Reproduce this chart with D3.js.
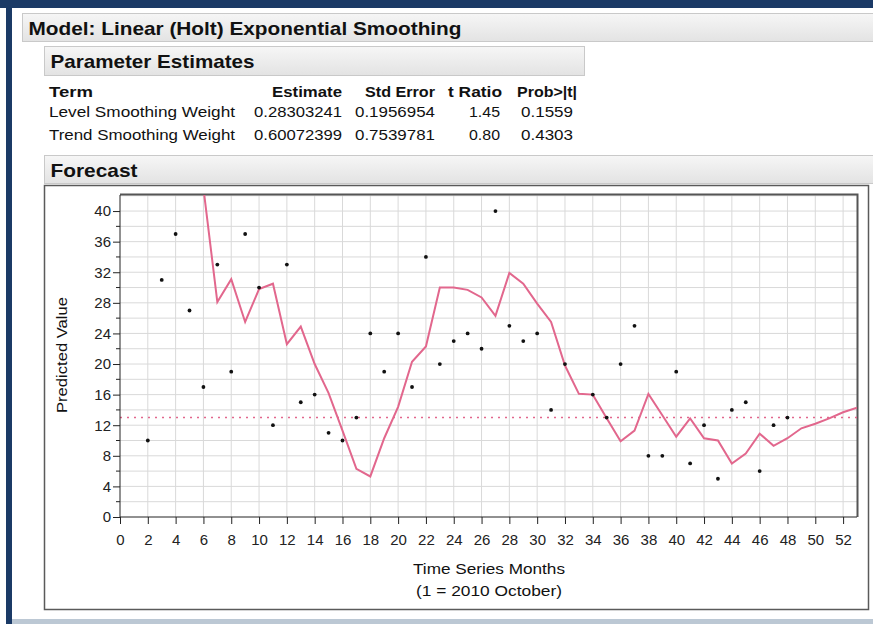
<!DOCTYPE html>
<html>
<head>
<meta charset="utf-8">
<script src="https://cdn.jsdelivr.net/npm/d3@7"></script>
<style>
    body { margin: 0; background: #fff; }
    text { font-family: "Liberation Sans", Arial, sans-serif; fill: #111; }
    .bar-title { font-weight: bold; }
    .th { font-weight: bold; font-size: 15px; }
    .td { font-size: 15px; }
    .axis text { font-size: 15px; fill: #222; }
    .axis path, .axis line { stroke: #222; }
    .grid line { stroke: #d9d9d9; stroke-width: 1; }
</style>
</head>
<body>
<div id="chart"></div>
<script>

// actual monthly values (month 1..48), null where no point is shown
var months = d3.range(1, 49);
var actual = [null, 10, 31, 37, 27, 17, 33, 19, 37, 30, 12, 33, 15, 16, 11, 10,
    13, 24, 19, 24, 17, 34, 20, 23, 24, 22, 40, 25, 23, 24, 14, 20,
    null, 16, 13, 20, 25, 8, 8, 19, 7, 12, 5, 14, 15, 6, 12, 13];

// predicted values (month 6..53)
var predMonths = d3.range(6, 54);
var predicted = [43, 28.1, 31.1, 25.5, 29.8, 30.5, 22.6, 24.9, 20.0, 16.2, 11.3, 6.3,
    5.3, 10.3, 14.4, 20.3, 22.3, 30.0, 30.0, 29.7, 28.7, 26.3, 31.9, 30.5,
    27.9, 25.5, 19.8, 16.1, 16.0, 12.9, 9.9, 11.3, 16.1, 13.3, 10.5, 12.9,
    10.3, 10.0, 7.0, 8.3, 10.9, 9.3, 10.3, 11.6, 12.2, 12.9, 13.7, 14.3];

var meanLine = 13;

var xTicks = d3.range(0, 53, 2);
var yTicks = d3.range(0, 41, 4);

var tableHead = ["Term", "Estimate", "Std Error", "t Ratio", "Prob>|t|"];
var tableRows = [
    ["Level Smoothing Weight", "0.28303241", "0.1956954", "1.45", "0.1559"],
    ["Trend Smoothing Weight", "0.60072399", "0.7539781", "0.80", "0.4303"]
];

var W = 873, H = 624;

var svg = d3.select("#chart").append("svg")
    .attr("width", W)
    .attr("height", H);

// gradient for the section header bars
var defs = svg.append("defs");
var grad = defs.append("linearGradient")
    .attr("id", "barGrad")
    .attr("x1", 0).attr("y1", 0).attr("x2", 0).attr("y2", 1);
grad.append("stop").attr("offset", "0%").attr("stop-color", "#f6f6f6");
grad.append("stop").attr("offset", "100%").attr("stop-color", "#e3e3e3");

defs.append("clipPath").attr("id", "plotClip")
    .append("rect")
    .attr("x", 120).attr("y", 195)
    .attr("width", 737).attr("height", 322);

// page frame (dark blue edges, light bottom line)
svg.append("rect").attr("x", 0).attr("y", 0).attr("width", W).attr("height", 8).attr("fill", "#1b3a66");
svg.append("rect").attr("x", 6).attr("y", 0).attr("width", 6).attr("height", H).attr("fill", "#1b3a66");
svg.append("rect").attr("x", 12).attr("y", 619).attr("width", W - 12).attr("height", 5).attr("fill", "#bcc8d4");

// section header bars
function headerBar(x, y, w, h, label, textW) {
    svg.append("rect")
        .attr("x", x).attr("y", y)
        .attr("width", w).attr("height", h)
        .attr("fill", "url(#barGrad)")
        .attr("stroke", "#c9c9c9");
    svg.append("text")
        .attr("class", "bar-title")
        .attr("x", x + 6)
        .attr("y", y + h / 2 + 7)
        .attr("font-size", 19)
        .attr("textLength", textW)
        .attr("lengthAdjust", "spacingAndGlyphs")
        .text(label);
}

headerBar(22.5, 13.5, 860, 28, "Model: Linear (Holt) Exponential Smoothing", 433);
headerBar(44.5, 46.5, 540, 29, "Parameter Estimates", 204);
headerBar(44.5, 155.5, 840, 28, "Forecast", 87);

// parameter table
var colRight = [null, 342, 435, 502, 577];
var headW = [44, 70, 70, 54, 60];
var th = svg.append("g");
tableHead.forEach(function(h, i) {
    th.append("text")
        .attr("class", "th")
        .attr("x", i == 0 ? 49 : colRight[i])
        .attr("y", 97)
        .attr("text-anchor", i == 0 ? "start" : "end")
        .attr("textLength", headW[i])
        .attr("lengthAdjust", "spacingAndGlyphs")
        .text(h);
});

var valRight = [null, 342, 435, 500, 573];
var valW = [186, 88, 80, 31, 52];
tableRows.forEach(function(row, r) {
    row.forEach(function(v, i) {
        svg.append("text")
            .attr("class", "td")
            .attr("x", i == 0 ? 49 : valRight[i])
            .attr("y", 117 + r * 23)
            .attr("text-anchor", i == 0 ? "start" : "end")
            .attr("textLength", valW[i])
            .attr("lengthAdjust", "spacingAndGlyphs")
            .text(v);
    });
});

// forecast panel box
svg.append("rect")
    .attr("x", 44.5).attr("y", 185.5)
    .attr("width", 824).attr("height", 424)
    .attr("fill", "#fff")
    .attr("stroke", "#5a5a5a")
    .attr("stroke-width", 1.5);

// scales
var x = d3.scaleLinear().domain([0, 53]).range([120, 857]);
var y = d3.scaleLinear().domain([0, 42.1]).range([517, 195]);

// grid
var grid = svg.append("g").attr("class", "grid");
grid.selectAll(".vg")
    .data(d3.range(2, 53, 2))
    .enter().append("line")
    .attr("x1", function(d) { return x(d); })
    .attr("x2", function(d) { return x(d); })
    .attr("y1", y.range()[1])
    .attr("y2", y.range()[0]);
grid.selectAll(".hg")
    .data(d3.range(2, 43, 2))
    .enter().append("line")
    .attr("x1", x.range()[0])
    .attr("x2", x.range()[1])
    .attr("y1", function(d) { return y(d); })
    .attr("y2", function(d) { return y(d); });

// frame top/right
svg.append("path")
    .attr("d", "M" + x.range()[0] + "," + (y.range()[1] - 0.5) + "H" + (x.range()[1] + 0.5) + "V" + y.range()[0])
    .attr("fill", "none")
    .attr("stroke", "#555")
    .attr("stroke-width", 2);

var plot = svg.append("g").attr("clip-path", "url(#plotClip)");

// mean reference line (dotted)
plot.append("line")
    .attr("x1", x(0)).attr("x2", x(53))
    .attr("y1", y(meanLine)).attr("y2", y(meanLine))
    .attr("stroke", "#e2678d")
    .attr("stroke-width", 1.6)
    .attr("stroke-dasharray", "2,5");

// predicted line
var line = d3.line()
    .x(function(d, i) { return x(predMonths[i]); })
    .y(function(d) { return y(d); });

plot.append("path")
    .datum(predicted)
    .attr("d", line)
    .attr("fill", "none")
    .attr("stroke", "#e2678d")
    .attr("stroke-width", 2);

// actual points
plot.selectAll(".pt")
    .data(months.filter(function(m, i) { return actual[i] != null; }))
    .enter().append("circle")
    .attr("class", "pt")
    .attr("cx", function(d) { return x(d); })
    .attr("cy", function(d) { return y(actual[d - 1]); })
    .attr("r", 1.9)
    .attr("fill", "#111");

// axes
var yAxis = svg.append("g")
    .attr("class", "axis")
    .attr("transform", "translate(" + x.range()[0] + ",0)")
    .call(d3.axisLeft(y).tickValues(yTicks).tickSize(7).tickPadding(2).tickSizeOuter(0));
yAxis.select(".domain").attr("d", "M0," + y(0) + "V" + y.range()[1]);

// minor y ticks
yAxis.selectAll(".minor")
    .data(d3.range(2, 42, 4))
    .enter().append("line")
    .attr("x1", -4).attr("x2", 0)
    .attr("y1", function(d) { return y(d); })
    .attr("y2", function(d) { return y(d); })
    .attr("stroke", "#222");

var xAxis = svg.append("g")
    .attr("class", "axis")
    .attr("transform", "translate(0," + y(0) + ")")
    .call(d3.axisBottom(x).tickValues(xTicks).tickSize(7).tickPadding(10).tickSizeOuter(0));
xAxis.select(".domain").attr("d", "M" + x.range()[0] + ",0H" + x.range()[1]);

// axis titles
svg.append("text")
    .attr("transform", "translate(67,355) rotate(-90)")
    .attr("text-anchor", "middle")
    .attr("font-size", 15)
    .attr("textLength", 116)
    .attr("lengthAdjust", "spacingAndGlyphs")
    .text("Predicted Value");

svg.append("text")
    .attr("x", 489).attr("y", 574)
    .attr("text-anchor", "middle")
    .attr("font-size", 15)
    .attr("textLength", 152)
    .attr("lengthAdjust", "spacingAndGlyphs")
    .text("Time Series Months");

svg.append("text")
    .attr("x", 489).attr("y", 596)
    .attr("text-anchor", "middle")
    .attr("font-size", 15)
    .attr("textLength", 146)
    .attr("lengthAdjust", "spacingAndGlyphs")
    .text("(1 = 2010 October)");

</script>
</body>
</html>
